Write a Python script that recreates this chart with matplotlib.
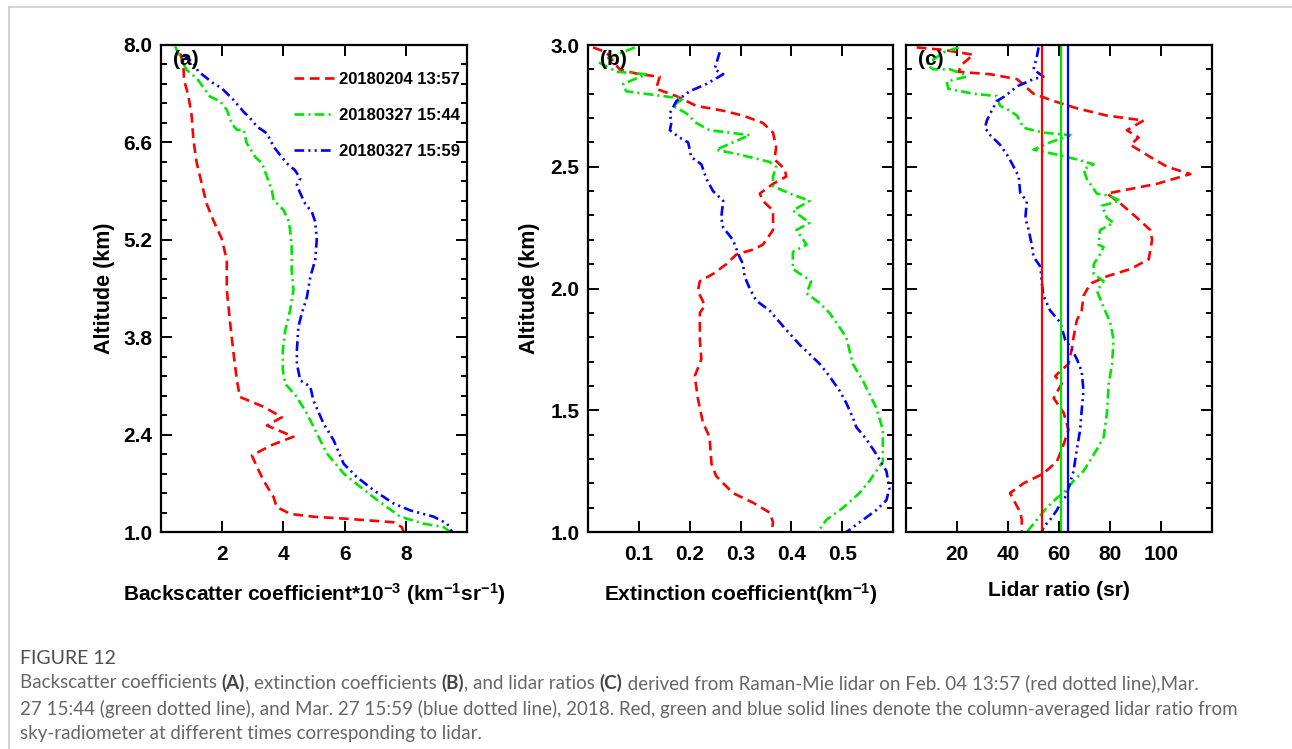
import numpy as np
import matplotlib
matplotlib.use('Agg')
import matplotlib.pyplot as plt
from matplotlib.lines import Line2D

plt.rcParams['font.family'] = 'Liberation Sans'
plt.rcParams['font.weight'] = 'bold'
plt.rcParams['mathtext.fontset'] = 'custom'
plt.rcParams['mathtext.rm'] = 'Liberation Sans:bold'
plt.rcParams['mathtext.default'] = 'rm'
plt.rcParams['lines.scale_dashes'] = False

# ---- panel (a): backscatter coefficient (x) vs altitude (km)
a_red_x = [0.62, 0.73, 0.75, 0.89, 1.00, 1.06, 1.17, 1.33, 1.49, 1.71, 1.98, 2.15, 2.15, 2.26, 2.37, 2.48, 2.58,
           3.35, 3.95, 3.46, 4.33, 3.62, 2.97, 3.13, 3.35, 3.68, 3.78, 4.22, 4.98, 6.07, 7.60, 7.87, 7.93]
a_red_y = [7.88, 7.74, 7.50, 7.28, 6.99, 6.63, 6.30, 6.01, 5.72, 5.48, 5.22, 4.91, 4.48, 4.00, 3.57, 3.18, 2.94,
           2.80, 2.65, 2.53, 2.37, 2.25, 2.10, 1.94, 1.74, 1.50, 1.36, 1.26, 1.22, 1.19, 1.14, 1.07, 1.00]
a_grn_x = [0.46, 0.62, 0.84, 1.17, 1.60, 1.93, 2.15, 2.31, 2.48, 2.70, 2.80, 3.08, 3.30, 3.46, 3.62, 3.68, 4.00,
           4.16, 4.22, 4.27, 4.27, 4.33, 4.22, 4.06, 3.98, 3.98, 4.06, 4.44, 4.77, 5.09, 5.42, 5.97, 6.51, 7.06,
           7.82, 8.58, 9.24, 9.45]
a_grn_y = [7.98, 7.83, 7.64, 7.52, 7.26, 7.19, 7.07, 6.87, 6.78, 6.78, 6.59, 6.39, 6.30, 6.11, 5.91, 5.77, 5.63,
           5.48, 5.34, 5.10, 4.76, 4.48, 4.19, 3.90, 3.61, 3.33, 3.13, 2.94, 2.70, 2.42, 2.13, 1.84, 1.65, 1.46,
           1.22, 1.12, 1.07, 1.00]
a_blu_x = [0.73, 1.06, 1.22, 1.71, 1.98, 2.37, 2.70, 2.91, 3.13, 3.46, 3.68, 3.89, 4.11, 4.38, 4.55, 4.44, 4.55,
           4.71, 4.93, 5.04, 5.09, 5.04, 4.88, 4.77, 4.60, 4.49, 4.44, 4.44, 4.55, 4.88, 4.98, 5.31, 5.64, 5.97,
           6.40, 6.95, 7.60, 8.15, 8.91, 9.35, 9.51]
a_blu_y = [7.86, 7.74, 7.62, 7.45, 7.38, 7.21, 7.04, 6.95, 6.83, 6.73, 6.54, 6.42, 6.30, 6.20, 6.08, 5.99, 5.87,
           5.72, 5.60, 5.46, 5.20, 4.91, 4.67, 4.38, 4.14, 3.95, 3.61, 3.42, 3.18, 3.09, 2.89, 2.56, 2.32, 1.98,
           1.79, 1.60, 1.41, 1.31, 1.22, 1.12, 1.00]

# ---- panel (b): extinction coefficient vs altitude (km)
b_red_x = [0.010, 0.036, 0.062, 0.100, 0.141, 0.134, 0.174, 0.213, 0.266, 0.305, 0.344, 0.364, 0.370, 0.367,
           0.387, 0.390, 0.364, 0.338, 0.344, 0.364, 0.364, 0.344, 0.325, 0.292, 0.272, 0.246, 0.220, 0.216,
           0.230, 0.220, 0.220, 0.223, 0.210, 0.216, 0.226, 0.239, 0.243, 0.252, 0.285, 0.325, 0.357, 0.364, 0.361]
b_red_y = [2.99, 2.97, 2.90, 2.88, 2.87, 2.82, 2.79, 2.75, 2.73, 2.71, 2.68, 2.64, 2.58, 2.53, 2.49, 2.46, 2.43,
           2.39, 2.36, 2.32, 2.24, 2.18, 2.16, 2.14, 2.10, 2.06, 2.03, 1.99, 1.93, 1.90, 1.79, 1.71, 1.64, 1.55,
           1.45, 1.39, 1.28, 1.23, 1.16, 1.12, 1.08, 1.04, 1.00]
b_grn_x = [0.092, 0.020, 0.056, 0.115, 0.069, 0.075, 0.148, 0.187, 0.167, 0.193, 0.213, 0.239, 0.318, 0.285,
           0.252, 0.298, 0.357, 0.370, 0.364, 0.364, 0.397, 0.436, 0.403, 0.436, 0.410, 0.430, 0.403, 0.403,
           0.439, 0.430, 0.456, 0.475, 0.495, 0.508, 0.521, 0.541, 0.567, 0.580, 0.580, 0.554, 0.534, 0.502,
           0.469, 0.452]
b_grn_y = [2.99, 2.93, 2.89, 2.88, 2.84, 2.81, 2.79, 2.78, 2.75, 2.72, 2.68, 2.65, 2.63, 2.60, 2.57, 2.55, 2.52,
           2.50, 2.46, 2.42, 2.39, 2.36, 2.32, 2.27, 2.24, 2.18, 2.15, 2.08, 2.03, 1.98, 1.94, 1.90, 1.84, 1.80,
           1.69, 1.62, 1.51, 1.42, 1.29, 1.21, 1.16, 1.10, 1.05, 1.00]
b_blu_x = [0.259, 0.249, 0.266, 0.233, 0.200, 0.174, 0.161, 0.164, 0.161, 0.180, 0.197, 0.203, 0.223, 0.233,
           0.246, 0.266, 0.262, 0.266, 0.285, 0.298, 0.305, 0.308, 0.318, 0.331, 0.357, 0.390, 0.416, 0.456,
           0.475, 0.495, 0.508, 0.521, 0.528, 0.548, 0.567, 0.587, 0.593, 0.587, 0.567, 0.541, 0.515, 0.508]
b_blu_y = [2.97, 2.90, 2.88, 2.84, 2.81, 2.77, 2.72, 2.68, 2.65, 2.62, 2.60, 2.54, 2.51, 2.45, 2.40, 2.36, 2.29,
           2.25, 2.20, 2.13, 2.10, 2.05, 2.00, 1.95, 1.91, 1.83, 1.77, 1.69, 1.64, 1.58, 1.53, 1.47, 1.43, 1.38,
           1.32, 1.25, 1.18, 1.13, 1.09, 1.05, 1.01, 1.00]

# ---- panel (c): lidar ratio (sr) vs altitude (km)
c_red_x = [4.2, 14.7, 26.4, 21.9, 20.6, 33.0, 43.5, 50.0, 57.9, 67.0, 78.8, 93.2, 86.6, 91.2, 88.0, 95.8, 102.4,
           111.5, 98.4, 78.8, 84.0, 90.6, 95.8, 96.5, 95.2, 88.0, 78.8, 72.3, 69.6, 68.9, 67.0, 65.7, 65.0, 63.7,
           60.5, 58.5, 61.1, 57.9, 61.8, 63.7, 61.8, 59.2, 53.9, 46.1, 40.8, 42.8, 44.8, 45.4, 45.4]
c_red_y = [2.99, 2.98, 2.96, 2.92, 2.89, 2.88, 2.86, 2.80, 2.77, 2.74, 2.71, 2.69, 2.65, 2.62, 2.59, 2.54, 2.50,
           2.47, 2.43, 2.39, 2.35, 2.29, 2.24, 2.20, 2.12, 2.08, 2.05, 2.02, 1.97, 1.91, 1.87, 1.80, 1.75, 1.69,
           1.66, 1.64, 1.61, 1.55, 1.49, 1.42, 1.36, 1.29, 1.24, 1.20, 1.16, 1.12, 1.08, 1.05, 1.00]
c_grn_x = [20.6, 14.7, 8.1, 10.7, 17.3, 22.5, 23.8, 16.0, 16.6, 26.4, 35.6, 36.9, 40.8, 43.5, 46.1, 53.9, 64.4,
           56.5, 50.0, 59.2, 67.0, 73.6, 69.6, 70.9, 74.8, 80.1, 84.0, 76.8, 78.8, 81.4, 76.1, 75.5, 77.5, 76.1,
           73.6, 73.6, 77.5, 74.9, 76.8, 80.1, 81.4, 80.8, 79.5, 78.8, 77.5, 74.9, 69.6, 65.7, 61.8, 59.2, 55.2,
           51.3, 47.4]
c_grn_y = [2.99, 2.97, 2.92, 2.90, 2.90, 2.88, 2.87, 2.85, 2.82, 2.80, 2.79, 2.75, 2.73, 2.71, 2.66, 2.64, 2.63,
           2.60, 2.57, 2.55, 2.53, 2.51, 2.49, 2.45, 2.39, 2.38, 2.36, 2.34, 2.29, 2.27, 2.24, 2.18, 2.17, 2.14,
           2.10, 2.06, 2.03, 1.99, 1.94, 1.86, 1.79, 1.69, 1.61, 1.49, 1.39, 1.34, 1.25, 1.21, 1.16, 1.14, 1.10,
           1.05, 1.00]
c_blu_x = [52.0, 51.3, 50.0, 53.9, 50.0, 43.5, 38.9, 35.6, 33.6, 31.7, 31.0, 33.0, 36.9, 40.2, 42.2, 44.2, 44.8,
           47.4, 46.8, 48.1, 49.5, 50.0, 52.7, 53.3, 53.9, 56.5, 60.5, 62.4, 65.0, 67.0, 68.9, 69.6, 68.9, 68.3,
           67.0, 65.7, 63.7, 63.1, 61.1, 59.2, 56.5, 53.9, 53.3]
c_blu_y = [2.99, 2.95, 2.90, 2.87, 2.86, 2.83, 2.79, 2.77, 2.73, 2.69, 2.66, 2.63, 2.59, 2.54, 2.50, 2.46, 2.39,
           2.36, 2.29, 2.24, 2.17, 2.13, 2.09, 2.02, 1.97, 1.91, 1.86, 1.79, 1.75, 1.71, 1.66, 1.58, 1.50, 1.42,
           1.34, 1.25, 1.18, 1.15, 1.13, 1.09, 1.05, 1.02, 1.00]
# column-averaged lidar ratio from sky-radiometer
sky_ratio = [53.5, 60.7, 63.6]

labels = ['20180204 13:57', '20180327 15:44', '20180327 15:59']
colors = ['#ff0000', '#00e600', '#0000ff']
dash_styles = [(0, (7, 4)), (0, (7, 3, 1.5, 3)), (0, (7, 3, 1.5, 3, 1.5, 3))]

W, H = 1292, 749
fig = plt.figure(figsize=(W / 100, H / 100), dpi=100)

# light frame of the page
fig.add_artist(Line2D([9 / W, 1], [1 - 7 / H, 1 - 7 / H], color='#cccccc', lw=1.2))
fig.add_artist(Line2D([9 / W, 9 / W], [0, 1 - 7 / H], color='#cccccc', lw=1.2))

ax_b = 1 - 532 / H
ax_h = 487 / H
axa = fig.add_axes([161 / W, ax_b, 306 / W, ax_h])
axb = fig.add_axes([588 / W, ax_b, 305 / W, ax_h])
axc = fig.add_axes([906 / W, ax_b, 306 / W, ax_h])

a_data = [(a_red_x, a_red_y), (a_grn_x, a_grn_y), (a_blu_x, a_blu_y)]
b_data = [(b_red_x, b_red_y), (b_grn_x, b_grn_y), (b_blu_x, b_blu_y)]
c_data = [(c_red_x, c_red_y), (c_grn_x, c_grn_y), (c_blu_x, c_blu_y)]

for ax, data in [(axa, a_data), (axb, b_data), (axc, c_data)]:
    for i in range(3):
        ax.plot(data[i][0], data[i][1], color=colors[i], lw=1.9, linestyle=dash_styles[i], label=labels[i])

for i in range(3):
    axc.axvline(sky_ratio[i], color=colors[i], lw=1.6)

# axes setup
axa.set_xlim(0, 10)
axa.set_ylim(1, 8)
axa.set_xticks([2, 4, 6, 8])
axa.set_yticks([1.0, 2.4, 3.8, 5.2, 6.6, 8.0])
axa.set_yticks(np.arange(1, 8.001, 0.28), minor=True)
axa.set_yticklabels(['1.0', '2.4', '3.8', '5.2', '6.6', '8.0'])

for ax in [axb, axc]:
    ax.set_ylim(1, 3)
    ax.set_yticks([1.0, 1.5, 2.0, 2.5, 3.0])
    ax.set_yticks(np.arange(1, 3.001, 0.1), minor=True)
axb.set_yticklabels(['1.0', '1.5', '2.0', '2.5', '3.0'])
axb.set_xlim(0, 0.6)
axb.set_xticks([0.1, 0.2, 0.3, 0.4, 0.5])
axb.set_xticklabels(['0.1', '0.2', '0.3', '0.4', '0.5'])
axc.set_xlim(0, 120)
axc.set_xticks([20, 40, 60, 80, 100])
axc.set_yticklabels([])

for ax in [axa, axb, axc]:
    for s in ax.spines.values():
        s.set_linewidth(1.6)
    ax.tick_params(which='both', direction='in', top=True, right=True, width=1.4, labelsize=15)
    ax.tick_params(axis='y', pad=6)
    ax.tick_params(axis='x', pad=9)
    ax.tick_params(which='major', length=8)
    ax.tick_params(which='minor', length=4)
    ax.tick_params(axis='x', which='minor', bottom=False, top=False)

axa.set_ylabel('Altitude (km)', fontsize=15.5, fontweight='bold')
axa.yaxis.set_label_coords(-0.15, 0.5)
axb.set_ylabel('Altitude (km)', fontsize=15.5, fontweight='bold')
axb.yaxis.set_label_coords(-0.158, 0.5)

axa.set_xlabel('Backscatter coefficient*10$^{-3}$ (km$^{-1}$sr$^{-1}$)', fontsize=15, fontweight='bold')
axb.set_xlabel('Extinction coefficient(km$^{-1}$)', fontsize=15, fontweight='bold')
axc.set_xlabel('Lidar ratio (sr)', fontsize=15, fontweight='bold')
for ax in [axa, axb, axc]:
    ax.xaxis.set_label_coords(0.5, -0.1)

axa.text(0.04, 0.99, '(a)', transform=axa.transAxes, fontsize=15, fontweight='bold', va='top')
axb.text(0.04, 0.99, '(b)', transform=axb.transAxes, fontsize=15, fontweight='bold', va='top')
axc.text(0.04, 0.99, '(c)', transform=axc.transAxes, fontsize=15, fontweight='bold', va='top')

axa.legend(loc='upper right', bbox_to_anchor=(1.01, 0.965), frameon=False, fontsize=12,
           handlelength=2.4, handletextpad=0.3, labelspacing=1.25, borderaxespad=0.2)

# caption
cap_font = 'Lato'
cap_color = '#666666'
r = fig.canvas.get_renderer()


def rich_line(x, y, parts, size=13.5):
    for s, bold in parts:
        t = fig.text(x, y, s, fontsize=size, family=cap_font, color='#444444' if bold else cap_color,
                     fontweight='bold' if bold else 'normal', va='center', ha='left')
        x += t.get_window_extent(renderer=r).width / W


fig.text(20 / W, 1 - 658 / H, 'FIGURE 12', fontsize=14, family=cap_font, color='#4d4d4d',
         fontweight='normal', va='center')
rich_line(20 / W, 1 - 683 / H, [('Backscatter coefficients ', False), ('(A)', True),
                                 (', extinction coefficients ', False), ('(B)', True),
                                 (', and lidar ratios ', False), ('(C)', True),
                                 (' derived from Raman-Mie lidar on Feb. 04 13:57 (red dotted line),Mar.', False)])
rich_line(20 / W, 1 - 709 / H, [('27 15:44 (green dotted line), and Mar. 27 15:59 (blue dotted line), 2018. Red, '
                                  'green and blue solid lines denote the column-averaged lidar ratio from', False)])
rich_line(20 / W, 1 - 734 / H, [('sky-radiometer at different times corresponding to lidar.', False)])

fig.savefig('out.png', dpi=100)
